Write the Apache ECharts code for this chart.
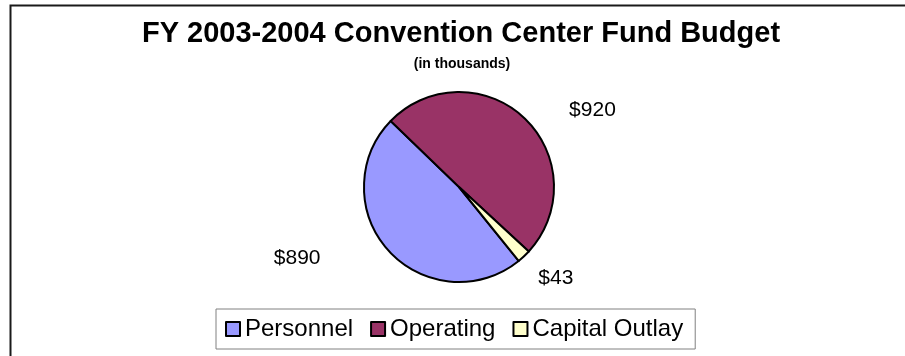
<!DOCTYPE html>
<html>
<head>
<meta charset="utf-8">
<title>FY 2003-2004 Convention Center Fund Budget</title>
<script src="https://cdn.jsdelivr.net/npm/echarts@6/dist/echarts.min.js"></script>
<style>
  html, body { margin: 0; padding: 0; background: #ffffff; }
  #chart { width: 905px; height: 356px; }
</style>
</head>
<body>
<div id="chart"></div>
<script>
// Budget categories and amounts (in thousands of dollars)
const categories = ['Personnel', 'Operating', 'Capital Outlay'];
const amounts = [890, 920, 43];
const sliceColors = ['#9999FF', '#993366', '#FFFFCC'];

const FONT = '"Liberation Sans", Arial, Helvetica, sans-serif';

// Per-slice label placement: hidden leader-line lengths and a small nudge
const labelPlacement = [
  { length: 10, length2: 56, offset: [0, 0] },
  { length: 10, length2: 33, offset: [0, 0] },
  { length: 30, length2: 0, offset: [-11, 0] }
];

const pieData = categories.map((name, i) => ({
  name: name,
  value: amounts[i],
  itemStyle: { color: sliceColors[i] },
  labelLine: { show: false, length: labelPlacement[i].length, length2: labelPlacement[i].length2 },
  label: { offset: labelPlacement[i].offset }
}));

const chart = echarts.init(document.getElementById('chart'), null, { renderer: 'canvas' });

chart.setOption({
  backgroundColor: '#ffffff',
  animation: false,
  graphic: [
    {
      // chart frame: top and left edges
      type: 'rect',
      z: 100,
      shape: { x: 10.5, y: 5.5, width: 1200, height: 800 },
      style: { fill: 'none', stroke: '#1a1a1a', lineWidth: 2 },
      silent: true
    }
  ],
  title: [
    {
      text: 'FY 2003-2004 Convention Center Fund Budget',
      left: 456,
      top: 14,
      textAlign: 'center',
      textStyle: { fontFamily: FONT, fontSize: 29, fontWeight: 'bold', color: '#000' }
    },
    {
      text: '(in thousands)',
      left: 457,
      top: 52,
      textAlign: 'center',
      textStyle: { fontFamily: FONT, fontSize: 14, fontWeight: 'bold', color: '#000' }
    }
  ],
  legend: {
    data: categories,
    left: 216,
    top: 309,
    orient: 'horizontal',
    icon: 'rect',
    itemWidth: 14,
    itemHeight: 14,
    itemGap: 17,
    padding: [8, 12, 8, 9],
    borderColor: '#808080',
    borderWidth: 1,
    itemStyle: { borderColor: '#000', borderWidth: 2 },
    textStyle: { fontFamily: FONT, fontSize: 24, color: '#000', padding: [0, 0, 0, 0] }
  },
  series: [
    {
      type: 'pie',
      center: [459, 187],
      radius: 95,
      startAngle: 308.9,
      clockwise: true,
      avoidLabelOverlap: false,
      itemStyle: { borderColor: '#000', borderWidth: 2 },
      label: {
        show: true,
        position: 'outside',
        fontFamily: FONT,
        fontSize: 21,
        color: '#000',
        formatter: (p) => '$' + p.value
      },
      labelLine: { show: false },
      emphasis: { disabled: true },
      data: pieData
    }
  ]
});
</script>
</body>
</html>
